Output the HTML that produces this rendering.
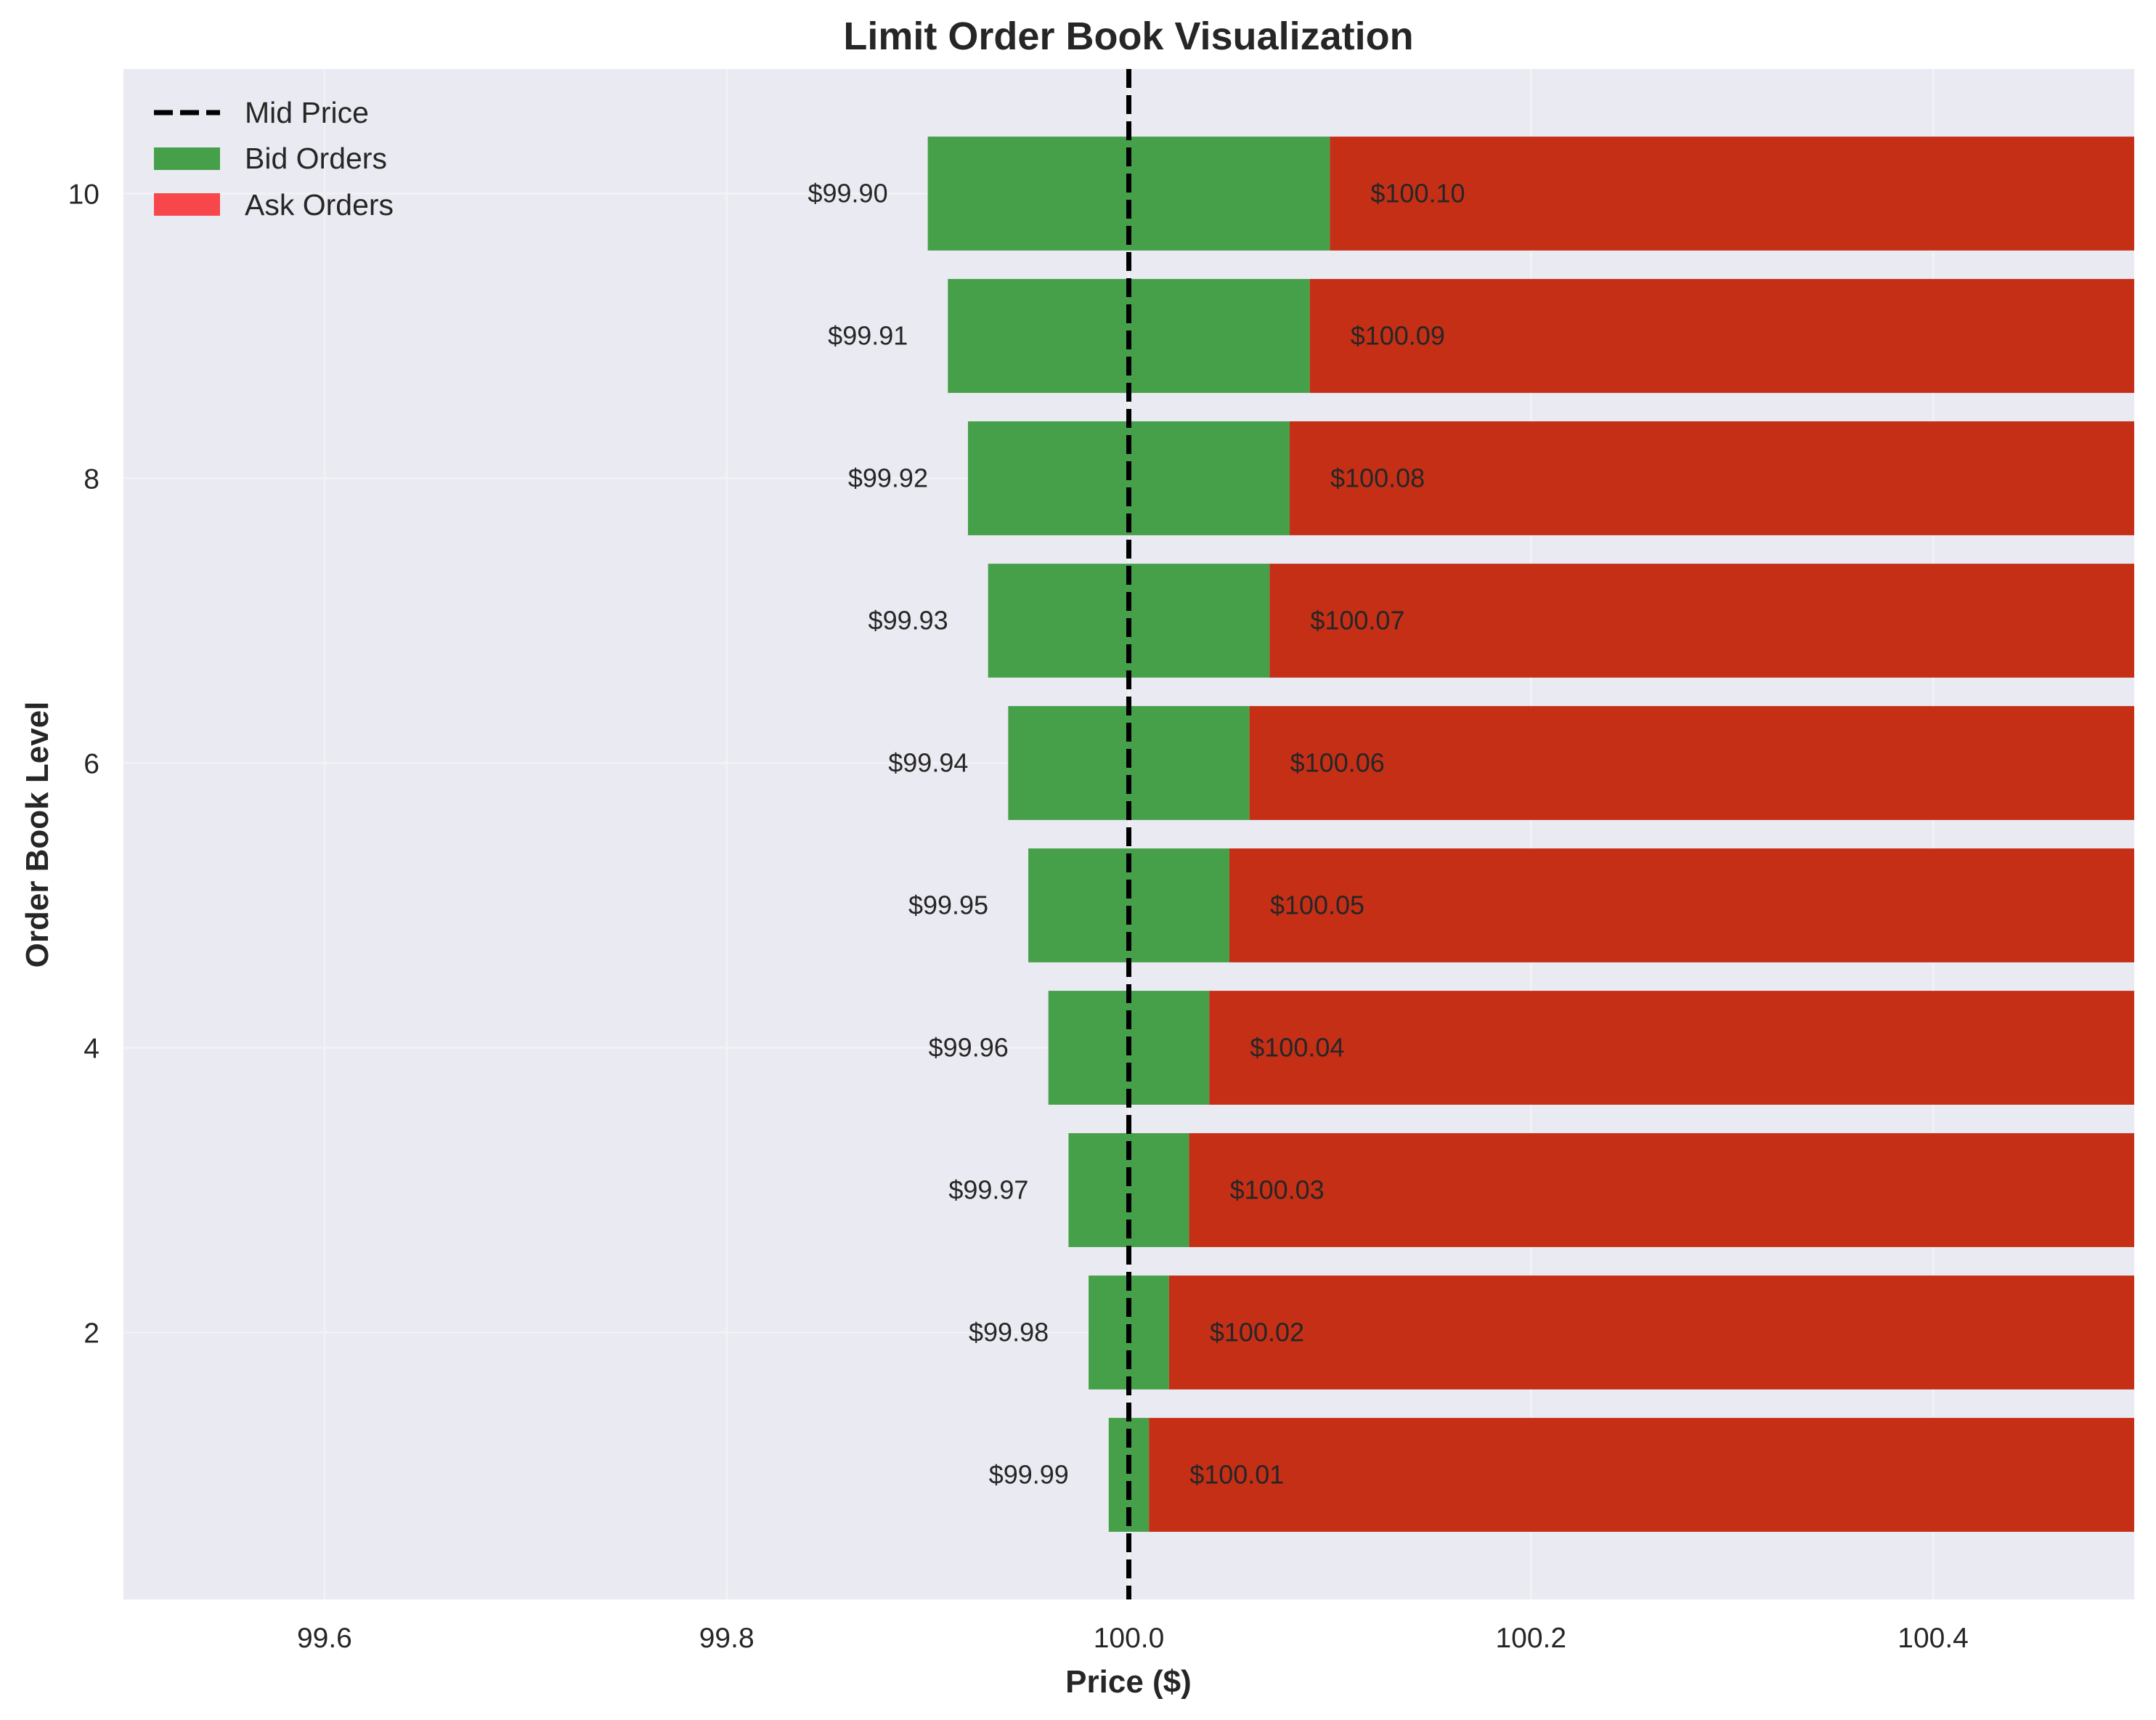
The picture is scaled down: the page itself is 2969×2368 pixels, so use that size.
<!DOCTYPE html>
<html><head><meta charset="utf-8"><style>
html,body{margin:0;padding:0;background:#fff;}
svg{display:block;font-family:"Liberation Sans",Arial,sans-serif;}
</style></head><body>
<svg id="chart" width="2969" height="2368" xmlns="http://www.w3.org/2000/svg">
<text x="1554" y="68" text-anchor="middle" font-size="54" font-weight="bold" fill="#262626">Limit Order Book Visualization</text>
<rect x="170" y="95" width="2769" height="2107" fill="#eaeaf2"/>
<g id="grid"></g>
<g id="bars"></g>
<g id="labels"></g>
<line id="mid" stroke="#000" stroke-width="7" stroke-dasharray="26,10"/>
<g id="ticks"></g>
<text x="1554" y="2330" text-anchor="middle" font-size="44" font-weight="bold" fill="#262626">Price ($)</text>
<text transform="translate(66,1149) rotate(-90)" text-anchor="middle" font-size="44" font-weight="bold" fill="#262626">Order Book Level</text>
<g>
<g>
<line x1="212" y1="155" x2="303" y2="155" stroke="#000" stroke-width="7" stroke-dasharray="26,10"/>
<text x="337" y="169" font-size="41" fill="#262626">Mid Price</text></g>
<g>
<rect x="212" y="203" width="91" height="31" fill="#46a049"/>
<text x="337" y="232" font-size="41" fill="#262626">Bid Orders</text></g>
<g>
<rect x="212" y="266" width="91" height="31" fill="#f8474a"/>
<text x="337" y="296" font-size="41" fill="#262626">Ask Orders</text></g>
</g>
</svg>
<script>
const levels = [1,2,3,4,5,6,7,8,9,10];
const bidPrices = [99.99,99.98,99.97,99.96,99.95,99.94,99.93,99.92,99.91,99.90];
const askPrices = [100.01,100.02,100.03,100.04,100.05,100.06,100.07,100.08,100.09,100.10];
const midPrice = 100.0;
const xTicks = [99.6,99.8,100.0,100.2,100.4];
const yTicks = [2,4,6,8,10];
const NS = "http://www.w3.org/2000/svg";
const L=170,R=2939,T=95,B=2202, xmin=99.5,xmax=100.5, ymin=0.125,ymax=10.875;
const X=v=>L+(v-xmin)/(xmax-xmin)*(R-L);
const Y=v=>B-(v-ymin)/(ymax-ymin)*(B-T);
function mk(tag,attrs,parent){const e=document.createElementNS(NS,tag);for(const k in attrs)e.setAttribute(k,attrs[k]);parent.appendChild(e);return e;}
const grid=document.getElementById('grid'),bars=document.getElementById('bars'),labels=document.getElementById('labels'),ticks=document.getElementById('ticks');
xTicks.forEach(t=>{
  const g=mk('line',{x1:X(t),x2:X(t),y1:T,y2:B,stroke:'#f2f2f6','stroke-width':2.5},grid);
  
  
  const tx=mk('text',{x:X(t),y:2268,'text-anchor':'middle','font-size':39,fill:'#262626'},ticks);
  tx.textContent=t.toFixed(1);
  
  
});
yTicks.forEach(t=>{
  const g=mk('line',{x1:L,x2:R,y1:Y(t),y2:Y(t),stroke:'#f2f2f6','stroke-width':2.5},grid);
  
  
  const tx=mk('text',{x:137,y:Y(t)+14,'text-anchor':'end','font-size':39,fill:'#262626'},ticks);
  tx.textContent=t;
  
  
});
const bh=(Y(0)-Y(0.8));
levels.forEach((lv,i)=>{
  const yc=Y(lv);
  const g=mk('rect',{x:X(bidPrices[i]),y:yc-bh/2,width:X(askPrices[i])-X(bidPrices[i]),height:bh,fill:'#46a049'},bars);
  
  
  const r=mk('rect',{x:X(askPrices[i]),y:yc-bh/2,width:R-X(askPrices[i]),height:bh,fill:'#c52f16'},bars);
  
  
  const bl=mk('text',{x:X(bidPrices[i])-55,y:yc+12,'text-anchor':'end','font-size':36,fill:'#262626'},labels);
  bl.textContent='$'+bidPrices[i].toFixed(2);
  
  
  const al=mk('text',{x:X(askPrices[i])+56,y:yc+12,'font-size':36,fill:'#262626'},labels);
  al.textContent='$'+askPrices[i].toFixed(2);
  
  
});
const mid=document.getElementById('mid');
mid.setAttribute('x1',X(midPrice));mid.setAttribute('x2',X(midPrice));
mid.setAttribute('y1',T);mid.setAttribute('y2',B);
</script>
</body></html>
